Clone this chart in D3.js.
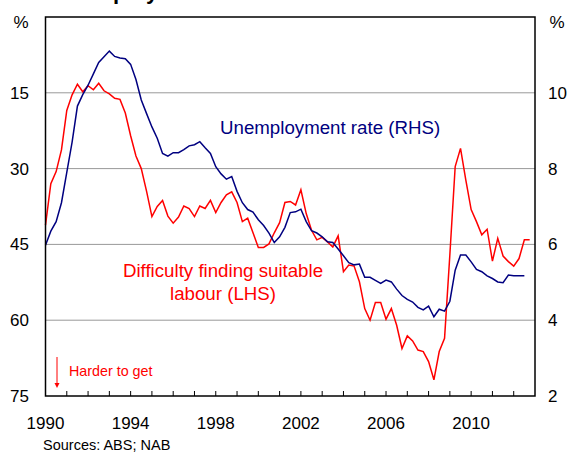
<!DOCTYPE html>
<html>
<head>
<meta charset="utf-8">
<script src="https://cdn.jsdelivr.net/npm/d3@7"></script>
<style>
  body { margin: 0; background: #fff; }
  svg { display: block; font-family: Arial, "Liberation Sans", sans-serif; }
</style>
</head>
<body>
<svg width="567" height="454"></svg>
<script>
'use strict';

// quarterly series, first point = 1990 Q1
var startYear = 1990;

// unemployment rate, % (right axis)
var unemployment = [
  5.98, 6.35, 6.6, 7.1, 7.9, 8.7, 9.65, 9.95, 10.2, 10.5, 10.8, 10.95,
  11.1, 10.96, 10.92, 10.9, 10.75, 10.35, 9.81, 9.45, 9.1, 8.8, 8.4, 8.33,
  8.42, 8.42, 8.5, 8.6, 8.63, 8.71, 8.55, 8.4, 8.05, 7.86, 7.72, 7.79,
  7.4, 7.1, 6.92, 6.85, 6.65, 6.5, 6.3, 6.05, 6.2, 6.45, 6.84, 6.86,
  6.93, 6.6, 6.36, 6.3, 6.2, 6.07, 6.05, 5.88, 5.7, 5.52, 5.46, 5.48,
  5.13, 5.13, 5.05, 4.97, 5.06, 5.01, 4.82, 4.65, 4.55, 4.48, 4.34, 4.27,
  4.37, 4.09, 4.29, 4.24, 4.5, 5.32, 5.72, 5.72, 5.54, 5.34, 5.28, 5.17,
  5.1, 5.01, 4.99, 5.19, 5.17, 5.17, 5.17
];

// difficulty finding suitable labour, % (left axis, inverted)
var difficulty = [
  41.2, 33.0, 30.6, 26.3, 18.5, 15.4, 13.3, 14.8, 13.6, 14.4, 13.1, 14.6,
  15.2, 16.1, 16.3, 19.0, 23.5, 27.5, 30.0, 34.5, 39.5, 37.5, 36.3, 39.4,
  40.8, 39.6, 37.4, 37.9, 39.5, 37.4, 37.9, 36.3, 38.7, 36.7, 35.2, 34.6,
  36.7, 40.5, 39.8, 42.7, 45.6, 45.6, 44.9, 42.7, 40.7, 36.7, 36.5, 37.2,
  34.2, 38.9, 42.2, 44.1, 43.6, 44.5, 45.5, 43.3, 50.4, 49.1, 49.3, 52.4,
  57.7, 60.0, 56.5, 56.5, 59.8, 57.7, 61.0, 65.6, 63.1, 64.1, 65.9, 66.2,
  68.2, 71.8, 66.2, 63.6, 47.0, 29.6, 26.0, 32.3, 38.1, 40.5, 43.1, 42.0,
  48.3, 43.8, 47.3, 48.4, 49.3, 47.8, 44.1, 44.1
];

var leftTicks = [15, 30, 45, 60, 75];
var rightTicks = [10, 8, 6, 4, 2];
var yearLabels = [1990, 1994, 1998, 2002, 2006, 2010];

var svg = d3.select('svg');
var m = {left: 45.5, right: 535, top: 17, bottom: 396};

var x = d3.scaleLinear().domain([1990, 2013]).range([m.left, m.right]);
var yL = d3.scaleLinear().domain([0, 75]).range([m.top, m.bottom]); // inverted
var yR = d3.scaleLinear().domain([2, 12]).range([m.bottom, m.top]);

// title, only its descenders show at the top edge
svg.append('text').attr('x', 52).attr('y', -1)
  .attr('font-size', 22).attr('font-weight', 'bold')
  .text('Unemployment and Labour');

// gridlines
svg.selectAll('line.grid').data([15, 30, 45, 60]).enter().append('line')
  .attr('class', 'grid')
  .attr('x1', m.left).attr('x2', m.right)
  .attr('y1', function(d){ return yL(d); })
  .attr('y2', function(d){ return yL(d); })
  .attr('stroke', '#999').attr('stroke-width', 1);

// year ticks along the bottom, pointing up
var years = d3.range(1991, 2013);
svg.selectAll('line.tick').data(years).enter().append('line')
  .attr('class', 'tick')
  .attr('x1', function(d){ return x(d); }).attr('x2', function(d){ return x(d); })
  .attr('y1', m.bottom).attr('y2', m.bottom - 5)
  .attr('stroke', '#000').attr('stroke-width', 1);

// lines
var lineL = d3.line()
  .x(function(d, i){ return x(startYear + i / 4); })
  .y(function(d){ return yL(d); });
var lineR = d3.line()
  .x(function(d, i){ return x(startYear + i / 4); })
  .y(function(d){ return yR(d); });

svg.append('path').datum(difficulty).attr('d', lineL)
  .attr('fill', 'none').attr('stroke', '#ff0000').attr('stroke-width', 1.5);
svg.append('path').datum(unemployment).attr('d', lineR)
  .attr('fill', 'none').attr('stroke', '#000080').attr('stroke-width', 1.5);

// frame
svg.append('rect').attr('x', m.left).attr('y', m.top)
  .attr('width', m.right - m.left).attr('height', m.bottom - m.top)
  .attr('fill', 'none').attr('stroke', '#000').attr('stroke-width', 1.5);

// axis labels
svg.selectAll('text.yl').data(leftTicks).enter().append('text')
  .attr('class', 'yl')
  .attr('x', 29).attr('y', function(d){ return yL(d) + 6; })
  .attr('text-anchor', 'end').attr('font-size', 17)
  .text(function(d){ return d; });
svg.selectAll('text.yr').data(rightTicks).enter().append('text')
  .attr('class', 'yr')
  .attr('x', 548).attr('y', function(d){ return yR(d) + 6; })
  .attr('font-size', 17)
  .text(function(d){ return d; });
svg.selectAll('text.xl').data(yearLabels).enter().append('text')
  .attr('class', 'xl')
  .attr('x', function(d){ return x(d); }).attr('y', 429)
  .attr('text-anchor', 'middle').attr('font-size', 17)
  .text(function(d){ return d; });

svg.append('text').attr('x', 21).attr('y', 28).attr('text-anchor', 'middle')
  .attr('font-size', 17).text('%');
svg.append('text').attr('x', 557).attr('y', 28).attr('text-anchor', 'middle')
  .attr('font-size', 17).text('%');

// series labels
svg.append('text').attr('x', 220).attr('y', 134)
  .attr('font-size', 18.7).attr('fill', '#000080')
  .text('Unemployment rate (RHS)');
svg.append('text').attr('x', 223).attr('y', 277).attr('text-anchor', 'middle')
  .attr('font-size', 18.7).attr('fill', '#ff0000')
  .text('Difficulty finding suitable');
svg.append('text').attr('x', 223).attr('y', 300).attr('text-anchor', 'middle')
  .attr('font-size', 18.7).attr('fill', '#ff0000')
  .text('labour (LHS)');

// "harder to get" note with arrow
svg.append('line').attr('x1', 57).attr('x2', 57).attr('y1', 357).attr('y2', 384)
  .attr('stroke', '#ff0000').attr('stroke-width', 1);
svg.append('path').attr('d', 'M54.5,383 L59.5,383 L57,388 Z').attr('fill', '#ff0000');
svg.append('text').attr('x', 69).attr('y', 376)
  .attr('font-size', 14.3).attr('fill', '#ff0000')
  .text('Harder to get');

svg.append('text').attr('x', 43).attr('y', 450)
  .attr('font-size', 14.5)
  .text('Sources: ABS; NAB');
</script>
</body>
</html>
